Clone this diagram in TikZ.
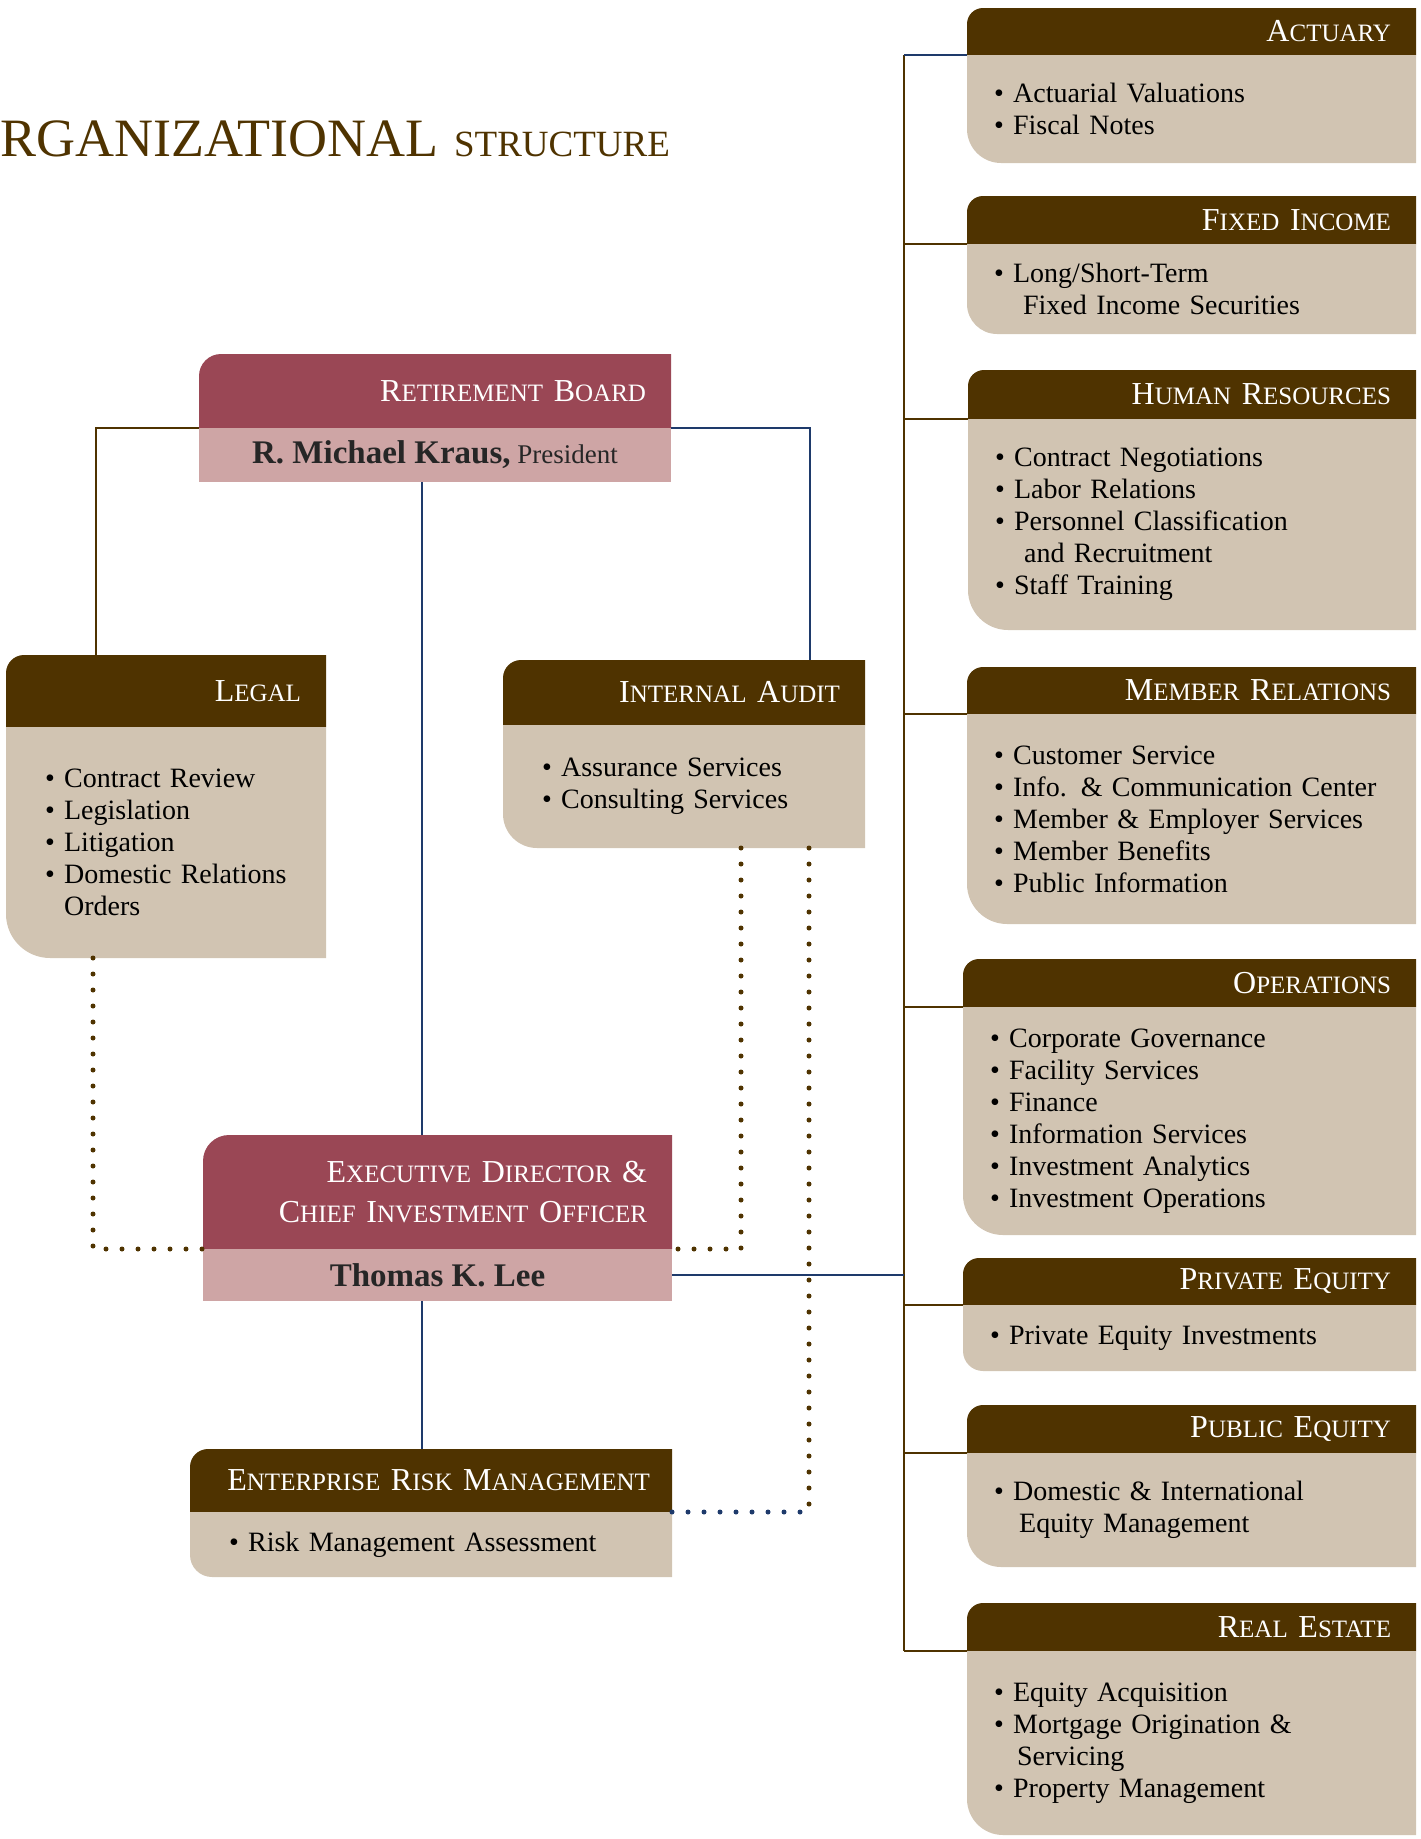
\documentclass[tikz,border=0pt]{standalone}
\usepackage{fontspec}
\setmainfont{Liberation Serif}
\usepackage{xcolor}
\usepackage{tikz}
\usetikzlibrary{positioning, calc, backgrounds}

\definecolor{hdrbrown}{HTML}{4F3300}
\definecolor{bodytan}{HTML}{D1C4B2}
\definecolor{boardred}{HTML}{9A4755}
\definecolor{boardpink}{HTML}{CEA5A5}
\definecolor{linenavy}{HTML}{1E3A6B}

% smaller capitals inside the unit headings
\newcommand{\sm}[1]{{\fontsize{25}{25}\selectfont #1}}

\begin{document}
\begin{tikzpicture}[
    x=1pt, y=-1pt,
    hdr/.style={anchor=north west, inner xsep=25pt, inner ysep=0pt, outer sep=0pt, align=right, text=white, font=\fontsize{32}{40}\selectfont},
    list/.style={below=0pt of #1, inner xsep=27pt, inner ysep=0pt, outer sep=0pt, align=left, font=\fontsize{28}{32}\selectfont},
    person/.style={below=0pt of #1, fill=boardpink, inner sep=0pt, outer sep=0pt, align=center, text=black!85},
    brownline/.style={draw=hdrbrown, line width=2.2pt},
    navyline/.style={draw=linenavy, line width=2.2pt},
    dotline/.style={draw=hdrbrown, line width=5pt, line cap=round, dash pattern=on 0pt off 16pt}
]
    \useasboundingbox (0,0) rectangle (1421,1839);

    % Title
    \node[anchor=base west, inner sep=0pt, text=hdrbrown] (title) at (0,156)
        {\fontsize{54}{54}\selectfont RGANIZATIONAL\hspace{16pt}{\fontsize{37}{37}\selectfont STRUCTURE}};

    % Board and executive director
    \node[hdr, text width=422pt, minimum height=74pt] (board) at (199,354) {R\sm{ETIREMENT} B\sm{OARD}};
    \node[person=board, minimum width=472pt, minimum height=54pt, font=\fontsize{27}{27}\selectfont] (boardb)
        {{\fontsize{33}{33}\selectfont\bfseries R. Michael Kraus,}\ President};
    \node[hdr, text width=419pt, minimum height=114pt] (ed) at (203,1135)
        {E\sm{XECUTIVE} D\sm{IRECTOR} \&\\C\sm{HIEF} I\sm{NVESTMENT} O\sm{FFICER}};
    \node[person=ed, minimum width=469pt, minimum height=52pt] (edb)
        {\fontsize{33}{33}\selectfont\bfseries Thomas K. Lee};

    % Left side units
    \node[hdr, text width=270pt, minimum height=72pt] (legal) at (6,655) {L\sm{EGAL}};
    \node[list=legal, inner xsep=39pt, text width=242pt, minimum height=231pt] (legalb)
        {\textbullet\ Contract Review\\ \textbullet\ Legislation\\ \textbullet\ Litigation\\
         \textbullet\ Domestic Relations\\ \phantom{\textbullet\ }Orders};
    \node[hdr, text width=312pt, minimum height=65pt] (audit) at (503,660) {I\sm{NTERNAL} A\sm{UDIT}};
    \node[list=audit, inner xsep=39pt, text width=284pt, minimum height=123pt] (auditb)
        {\textbullet\ Assurance Services\\ \textbullet\ Consulting Services};
    \node[hdr, inner xsep=22pt, text width=438pt, minimum height=63pt] (erm) at (190,1449)
        {E\sm{NTERPRISE} R\sm{ISK} M\sm{ANAGEMENT}};
    \node[list=erm, inner xsep=39pt, text width=404pt, minimum height=65pt] (ermb)
        {\textbullet\ Risk Management Assessment};

    % Right column units
    \node[hdr, text width=399pt, minimum height=47pt] (actuary) at (967,8) {A\sm{CTUARY}};
    \node[list=actuary, text width=395pt, minimum height=108pt] (actuaryb)
        {\textbullet\ Actuarial Valuations\\ \textbullet\ Fiscal Notes};
    \node[hdr, text width=399pt, minimum height=48pt] (fixedinc) at (967,196) {F\sm{IXED} I\sm{NCOME}};
    \node[list=fixedinc, text width=395pt, minimum height=90pt] (fixedincb)
        {\textbullet\ Long/Short-Term\\ \phantom{\textbullet\ }\hspace*{10pt}Fixed Income Securities};
    \node[hdr, text width=398pt, minimum height=49pt] (hr) at (968,370) {H\sm{UMAN} R\sm{ESOURCES}};
    \node[list=hr, text width=394pt, minimum height=211pt] (hrb)
        {\textbullet\ Contract Negotiations\\ \textbullet\ Labor Relations\\ \textbullet\ Personnel Classification\\
         \phantom{\textbullet\ }\hspace*{10pt}and Recruitment\\ \textbullet\ Staff Training};
    \node[hdr, text width=399pt, minimum height=47pt] (members) at (967,667) {M\sm{EMBER} R\sm{ELATIONS}};
    \node[list=members, text width=395pt, minimum height=210pt] (membersb)
        {\textbullet\ Customer Service\\ \textbullet\ Info. \& Communication Center\\ \textbullet\ Member \& Employer Services\\
         \textbullet\ Member Benefits\\ \textbullet\ Public Information};
    \node[hdr, text width=403pt, minimum height=48pt] (ops) at (963,959) {O\sm{PERATIONS}};
    \node[list=ops, text width=399pt, minimum height=228pt] (opsb)
        {\textbullet\ Corporate Governance\\ \textbullet\ Facility Services\\ \textbullet\ Finance\\
         \textbullet\ Information Services\\ \textbullet\ Investment Analytics\\ \textbullet\ Investment Operations};
    \node[hdr, text width=403pt, minimum height=47pt] (privateeq) at (963,1258) {P\sm{RIVATE} E\sm{QUITY}};
    \node[list=privateeq, text width=399pt, minimum height=66pt] (privateeqb)
        {\textbullet\ Private Equity Investments};
    \node[hdr, text width=399pt, minimum height=48pt] (publiceq) at (967,1405) {P\sm{UBLIC} E\sm{QUITY}};
    \node[list=publiceq, text width=395pt, minimum height=114pt] (publiceqb)
        {\textbullet\ Domestic \& International\\ \phantom{\textbullet\ }\hspace*{6pt}Equity Management};
    \node[hdr, text width=399pt, minimum height=48pt] (realestate) at (967,1603) {R\sm{EAL} E\sm{STATE}};
    \node[list=realestate, text width=395pt, minimum height=184pt] (realestateb)
        {\textbullet\ Equity Acquisition\\ \textbullet\ Mortgage Origination \&\\
         \phantom{\textbullet\ }\hspace*{4pt}Servicing\\ \textbullet\ Property Management};

    % Box fills
    \begin{scope}[on background layer]
        \foreach \n/\c/\r in {board/boardred/22, ed/boardred/26, legal/hdrbrown/18, audit/hdrbrown/18, erm/hdrbrown/18,
                actuary/hdrbrown/16, fixedinc/hdrbrown/16, hr/hdrbrown/16, members/hdrbrown/16, ops/hdrbrown/16,
                privateeq/hdrbrown/16, publiceq/hdrbrown/16, realestate/hdrbrown/16}
            \fill[\c] (\n.south west) -- ([yshift=-\r pt]\n.north west) arc[start angle=180, end angle=90, radius=\r pt]
                -- (\n.north east) -- (\n.south east) -- cycle;
        \foreach \n/\r in {legalb/44, auditb/34, ermb/22, actuaryb/34, fixedincb/30, hrb/40, membersb/40, opsb/40,
                privateeqb/20, publiceqb/34, realestateb/36}
            \fill[bodytan] (\n.north west) -- (\n.north east) -- (\n.south east)
                -- ([xshift=\r pt]\n.south west) arc[start angle=270, end angle=180, radius=\r pt] -- cycle;
    \end{scope}

    % Solid connectors
    \coordinate (trunktop) at ([xshift=-63pt]actuary.south west);
    \draw[brownline] (trunktop) -- (trunktop |- realestate.south west);
    \foreach \n in {fixedinc, hr, members, ops, privateeq, publiceq, realestate}
        \draw[brownline] (\n.south west) -- (\n.south west -| trunktop);
    \draw[navyline] (actuary.south west) -- (trunktop);
    \draw[navyline] (edb.east) -- (edb.east -| trunktop);
    \draw[brownline] (board.south west) -| ([xshift=90pt]legal.north west);
    \draw[navyline] (board.south east) -| ([xshift=307pt]audit.north west);
    \draw[navyline] ([xshift=223pt]boardb.south west) -- ([xshift=219pt]ed.north west);
    \draw[navyline] ([xshift=219pt]edb.south west) -- ([xshift=232pt]erm.north west);

    % Dotted connectors
    \coordinate (iadot) at ([xshift=306pt]auditb.south west);
    \draw[dotline] ([xshift=87pt]legalb.south west) |- (ed.south west);
    \draw[dotline] ([xshift=238pt]auditb.south west) |- (ed.south east);
    \draw[dotline] (iadot) -- (iadot |- erm.south east);
    \draw[dotline, draw=linenavy] (erm.south east) -- (iadot |- erm.south east);
\end{tikzpicture}
\end{document}
